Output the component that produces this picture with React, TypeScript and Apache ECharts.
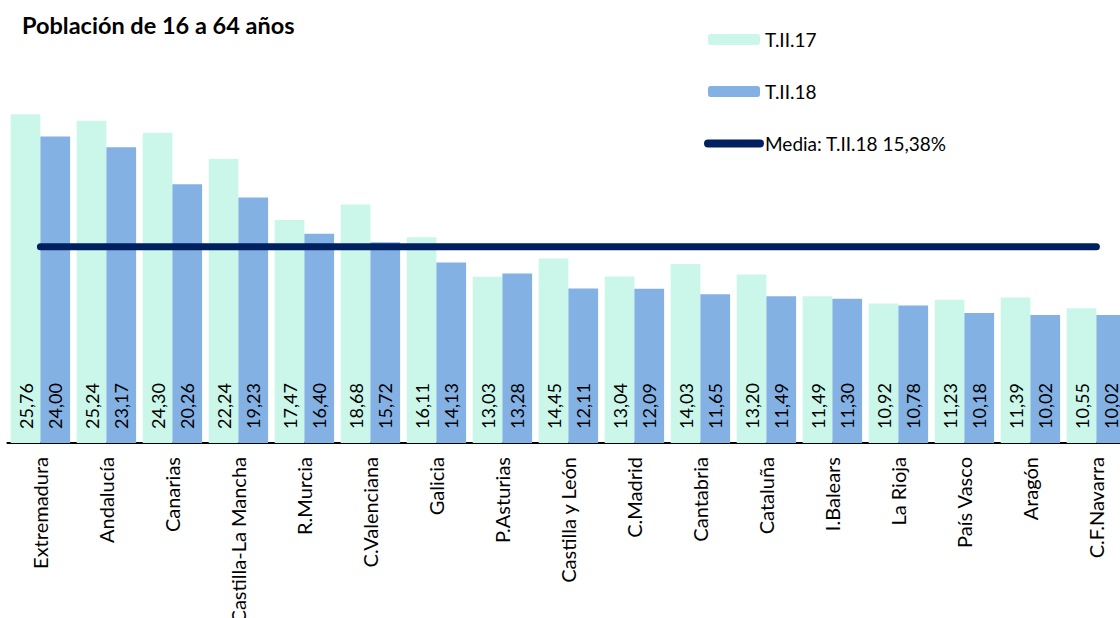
import React, { useEffect, useRef } from "react";
import * as echarts from "echarts";

const TITLE = "Población de 16 a 64 años";
const CATEGORIES = [
  "Extremadura", "Andalucía", "Canarias", "Castilla-La Mancha", "R.Murcia",
  "C.Valenciana", "Galicia", "P.Asturias", "Castilla y León", "C.Madrid",
  "Cantabria", "Cataluña", "I.Balears", "La Rioja", "País Vasco", "Aragón", "C.F.Navarra",
];
const SERIES_17_NAME = "T.II.17";
const SERIES_18_NAME = "T.II.18";
const MEDIA_NAME = "Media: T.II.18 15,38%";
const VALUES_17 = [25.76, 25.24, 24.30, 22.24, 17.47, 18.68, 16.11, 13.03, 14.45, 13.04, 14.03, 13.20, 11.49, 10.92, 11.23, 11.39, 10.55];
const VALUES_18 = [24.00, 23.17, 20.26, 19.23, 16.40, 15.72, 14.13, 13.28, 12.11, 12.09, 11.65, 11.49, 11.30, 10.78, 10.18, 10.02, 10.02];
const MEDIA = 15.38;

const FONT = "Lato";
const fmt = (v: number) => v.toFixed(2).replace(".", ",");

export default function App() {
  const ref = useRef<HTMLDivElement>(null);
  useEffect(() => {
    if (!ref.current) return;
    const chart = echarts.init(ref.current, null, { renderer: "svg" });
    const barLabel = {
      show: true,
      position: "insideBottom",
      rotate: 90,
      align: "left",
      verticalAlign: "middle",
      distance: 14,
      color: "#000",
      fontSize: 18,
      fontFamily: FONT,
      formatter: (p: any) => fmt(p.value),
    };
    chart.setOption({
      animation: false,
      textStyle: { fontFamily: FONT },
      title: {
        text: TITLE,
        left: 17,
        top: 8,
        textStyle: { fontFamily: FONT, fontSize: 23.5, fontWeight: "bold", color: "#000" },
      },
      legend: {
        orient: "vertical",
        left: 699,
        top: 25,
        itemWidth: 52,
        itemHeight: 11,
        itemGap: 33,
        textStyle: { fontFamily: FONT, fontSize: 19, color: "#000" },
        data: [
          SERIES_17_NAME,
          SERIES_18_NAME,
          {
            name: MEDIA_NAME,
            itemStyle: { opacity: 0 },
            lineStyle: { width: 8, cap: "round", color: "#002060", opacity: 1 },
          },
        ],
      },
      grid: { left: 7.4, width: 1122, top: 60, height: 383, outerBoundsMode: "none", containLabel: false },
      xAxis: {
        type: "category",
        data: CATEGORIES,
        axisLine: { lineStyle: { color: "#000", width: 2 } },
        axisTick: { show: false },
        axisLabel: {
          rotate: 90,
          margin: 14,
          interval: 0,
          color: "#000",
          fontSize: 20,
          fontFamily: FONT,
        },
      },
      yAxis: {
        type: "value",
        min: 0,
        max: 30,
        show: false,
        splitLine: { show: false },
      },
      series: [
        {
          name: SERIES_17_NAME,
          type: "bar",
          data: VALUES_17,
          barGap: "0%",
          barCategoryGap: "10%",
          itemStyle: { color: "#CAF7E9" },
          label: barLabel,
        },
        {
          name: SERIES_18_NAME,
          type: "bar",
          data: VALUES_18,
          barGap: "0%",
          barCategoryGap: "10%",
          itemStyle: { color: "#83B1E4" },
          label: barLabel,
        },
        {
          name: MEDIA_NAME,
          type: "line",
          data: [
            [CATEGORIES[0], MEDIA],
            [CATEGORIES[CATEGORIES.length - 1], MEDIA],
          ],
          symbol: "none",
          z: 5,
          itemStyle: { color: "#002060" },
          lineStyle: { color: "#002060", width: 7, cap: "round" },
        },
      ],
    });
    return () => chart.dispose();
  }, []);
  return (
    <div style={{ position: "fixed", left: 0, top: 0, width: 1120, height: 618, overflow: "hidden", background: "#fff" }}>
      <div ref={ref} style={{ width: 1145, height: 618 }} />
    </div>
  );
}
